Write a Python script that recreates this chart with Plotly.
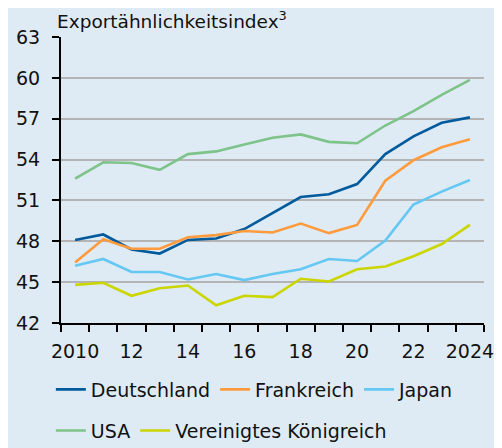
import plotly.graph_objects as go

years = list(range(2010, 2025))
deutschland = [48.1, 48.5, 47.4, 47.1, 48.1, 48.2, 48.9, 50.1, 51.25, 51.45, 52.2, 54.4, 55.7, 56.7, 57.1]
frankreich = [46.45, 48.15, 47.45, 47.45, 48.3, 48.45, 48.75, 48.65, 49.3, 48.6, 49.2, 52.45, 53.95, 54.9, 55.5]
japan = [46.2, 46.7, 45.75, 45.75, 45.2, 45.6, 45.15, 45.6, 45.95, 46.7, 46.55, 48.05, 50.7, 51.65, 52.5]
usa = [52.6, 53.8, 53.75, 53.25, 54.4, 54.6, 55.1, 55.6, 55.85, 55.3, 55.2, 56.5, 57.55, 58.75, 59.85]
vk = [44.8, 44.95, 44.0, 44.55, 44.75, 43.3, 44.0, 43.9, 45.25, 45.05, 45.95, 46.15, 46.9, 47.8, 49.2]

tick_vals = [2010, 2012, 2014, 2016, 2018, 2020, 2022, 2024]
tick_text = ["2010", "12", "14", "16", "18", "20", "22", "2024"]

series = [
    ("Deutschland", deutschland, "#005a9c", "legend"),
    ("Frankreich", frankreich, "#ff9b3d", "legend"),
    ("Japan", japan, "#64c8f2", "legend"),
    ("USA", usa, "#7dc38a", "legend2"),
    ("Vereinigtes Königreich", vk, "#cbd500", "legend2"),
]

font = "DejaVu Sans"
bg = "#dfebf4"

fig = go.Figure()
for name, vals, col, lg in series:
    fig.add_trace(go.Scatter(x=years, y=vals, name=name, mode="lines",
                             line=dict(color=col, width=2.6), legend=lg))

fig.update_layout(
    width=494, height=440,
    margin=dict(l=53, r=18, t=29, b=125, autoexpand=False),
    paper_bgcolor=bg, plot_bgcolor=bg,
    font=dict(family=font, size=19, color="#111111"),
    showlegend=True,
    legend=dict(orientation="h", x=-0.024, xanchor="left", y=-0.166, yanchor="top",
                font=dict(size=19), bgcolor="rgba(0,0,0,0)", traceorder="normal"),
    legend2=dict(orientation="h", x=-0.024, xanchor="left", y=-0.31, yanchor="top",
                 font=dict(size=19), bgcolor="rgba(0,0,0,0)", traceorder="normal"),
    annotations=[dict(text="Exportähnlichkeitsindex<sup>3</sup>", xref="paper", yref="paper",
                      x=-0.014, y=1.0, xanchor="left", yanchor="bottom", yshift=3,
                      showarrow=False, font=dict(size=18.5, family=font))],
)

fig.update_xaxes(
    range=[2009.5, 2024.5], tickvals=tick_vals, ticktext=tick_text,
    ticks="", showgrid=False, zeroline=False, automargin=False,
    showline=True, linecolor="black", linewidth=2,
    minor=dict(ticks="outside", ticklen=7, tickwidth=2, tickcolor="black",
               tick0=2009.5, dtick=1, showgrid=False),
    tickfont=dict(size=19), ticklabelstandoff=10,
)
fig.update_yaxes(
    range=[42, 63], dtick=3, tick0=42, automargin=False,
    showgrid=True, gridcolor="#b4b4b4", gridwidth=1.5, zeroline=False,
    showline=True, linecolor="black", linewidth=2,
    ticks="outside", ticklen=7, tickwidth=2, tickcolor="black",
    tickfont=dict(size=19), ticklabelstandoff=8,
)

fig.write_html("out.html")
